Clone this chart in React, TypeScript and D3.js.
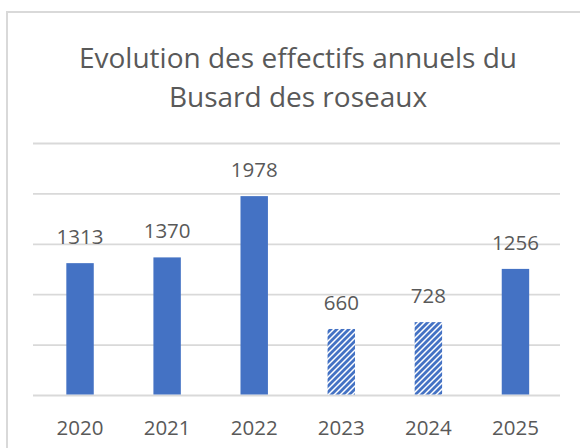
import React from "react";
import * as d3 from "d3";

const years = ["2020", "2021", "2022", "2023", "2024", "2025"];
const counts = [1313, 1370, 1978, 660, 728, 1256];
const hatched = [false, false, false, true, true, false];
const gridTicks = [0, 500, 1000, 1500, 2000, 2500];
const titleLines = ["Evolution des effectifs annuels du", "Busard des roseaux"];

const W = 580;
const H = 448;
const BLUE = "#4472C4";
const TEXT = "#595959";
const GRID = "#D9D9D9";
const FONT = "'Open Sans', sans-serif";

export default function App() {
  const x = d3
    .scaleBand<string>()
    .domain(years)
    .range([36.5, 559])
    .paddingInner(0.685)
    .paddingOuter(0.3425);
  const y = d3.scaleLinear().domain([0, 2500]).range([395.5, 143.5]);

  return (
    <svg
      width={W}
      height={H}
      style={{ position: "absolute", left: 0, top: 0, background: "#fff" }}
    >
      <defs>
        <pattern id="hatch" patternUnits="userSpaceOnUse" width={6} height={6}>
          <rect width={6} height={6} fill="#fff" />
          <path
            d="M-1,1 l2,-2 M0,6 l6,-6 M5,7 l2,-2"
            stroke={BLUE}
            strokeWidth={2.8}
          />
        </pattern>
      </defs>
      <rect x={0} y={0} width={W} height={H} fill="#fff" />
      <rect
        x={7}
        y={12}
        width={700}
        height={600}
        fill="none"
        stroke={GRID}
        strokeWidth={2}
      />
      {titleLines.map((t, i) => (
        <text
          key={t}
          x={298}
          y={68 + i * 39}
          textAnchor="middle"
          fontFamily={FONT}
          fontSize={28}
          fill={TEXT}
        >
          {t}
        </text>
      ))}
      {gridTicks.map((g) => (
        <line
          key={g}
          x1={33}
          x2={560}
          y1={y(g)}
          y2={y(g)}
          stroke={GRID}
          strokeWidth={1.8}
        />
      ))}
      {years.map((yr, i) => (
        <g key={yr}>
          <rect
            x={x(yr)}
            y={y(counts[i])}
            width={x.bandwidth()}
            height={y(0) - y(counts[i]) - 1}
            fill={hatched[i] ? "url(#hatch)" : BLUE}
          />
          <text
            x={(x(yr) as number) + x.bandwidth() / 2}
            y={y(counts[i]) - 19}
            textAnchor="middle"
            fontFamily={FONT}
            fontSize={20.5}
            fill={TEXT}
          >
            {counts[i]}
          </text>
          <text
            x={(x(yr) as number) + x.bandwidth() / 2}
            y={434.5}
            textAnchor="middle"
            fontFamily={FONT}
            fontSize={20.5}
            fill={TEXT}
          >
            {yr}
          </text>
        </g>
      ))}
    </svg>
  );
}
